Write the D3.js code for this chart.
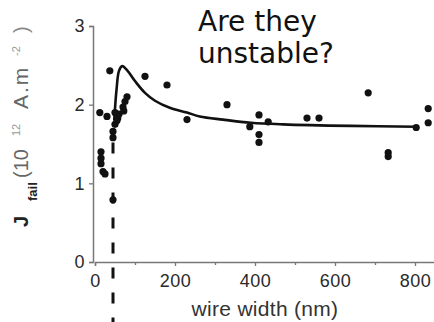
<!DOCTYPE html>
<html><head><meta charset="utf-8">
<script src="https://cdn.jsdelivr.net/npm/d3@7"></script>
<style>html,body{margin:0;padding:0;background:#fff;}svg{display:block;}</style>
</head><body>
<svg id="c" width="434" height="322"></svg>
<script>
// ---- data ----
const xTicks = [0, 200, 400, 600, 800];
const xMinorTicks = [100, 300, 500, 700];
const yTicks = [0, 1, 2, 3];
// measured points: wire width (nm), J_fail (1e12 A/m^2)
const widthNm = [12, 15, 15, 15, 20, 25, 37, 30, 50, 57, 50, 45, 45, 75, 80, 70, 72, 60, 55, 45, 125, 180, 230,
                 330, 410, 433, 387, 410, 410, 530, 560, 683, 733, 733, 803, 833, 833];
const jFail   = [1.90, 1.40, 1.32, 1.25, 1.15, 1.12, 2.43, 1.85, 1.90, 1.83, 1.75, 1.66, 1.58, 2.04, 2.10, 1.97, 1.92, 1.88, 1.80, 0.79, 2.36, 2.25, 1.81,
                 2.00, 1.87, 1.78, 1.72, 1.62, 1.52, 1.83, 1.83, 2.15, 1.39, 1.34, 1.71, 1.95, 1.77];
// fitted curve
const curveNm = [48, 54, 60, 68, 80, 100, 125, 150, 187, 230, 262, 320, 390, 470, 640, 805];
const curveJ  = [1.80, 2.20, 2.43, 2.49, 2.44, 2.30, 2.15, 2.05, 1.96, 1.90, 1.85, 1.81, 1.77, 1.75, 1.73, 1.72];
// vertical dashed marker
const markerNm = 45;
const markerJ = [1.52, -0.77];

const svg = d3.select("#c");
const x = d3.scaleLinear().domain([0, 850]).range([95, 435]);
const y = d3.scaleLinear().domain([0, 3]).range([262, 26]);

const tickFont = "'Liberation Sans', Arial, sans-serif";

// axes
const gx = svg.append("g").attr("transform", `translate(0,${y(0)})`)
  .call(d3.axisBottom(x).tickValues(xTicks).tickSize(4).tickPadding(8).tickFormat(d3.format("d")));
const gxm = svg.append("g").attr("transform", `translate(0,${y(0)})`)
  .call(d3.axisBottom(x).tickValues(xMinorTicks).tickSize(3).tickFormat(""));
gxm.select(".domain").remove();
const gy = svg.append("g").attr("transform", `translate(${x(0) - 2},0)`)
  .call(d3.axisLeft(y).tickValues(yTicks).tickSize(4).tickPadding(4).tickFormat(d3.format("d")));
[gx, gxm, gy].forEach(g => {
  g.selectAll(".domain").attr("stroke", "#777").attr("stroke-width", 1.5);
  g.selectAll(".tick line").attr("stroke", "#777").attr("stroke-width", 1.3);
  g.selectAll(".tick text").attr("fill", "#2a2a2a").style("font-family", tickFont)
    .style("font-size", "18px").style("letter-spacing", "0.5px");
});

// dashed vertical marker
svg.append("line")
  .attr("x1", x(markerNm)).attr("x2", x(markerNm))
  .attr("y1", y(markerJ[0])).attr("y2", y(markerJ[1]))
  .attr("stroke", "#111").attr("stroke-width", 3)
  .attr("stroke-dasharray", "11,14");

// curve
const curveData = curveNm.map((d, i) => [d, curveJ[i]]);
svg.append("path").datum(curveData)
  .attr("d", d3.line().x(d => x(d[0])).y(d => y(d[1])).curve(d3.curveCatmullRom.alpha(0.5)))
  .attr("fill", "none").attr("stroke", "#111").attr("stroke-width", 2.6);

// points
svg.append("g").selectAll("circle").data(widthNm.map((d, i) => [d, jFail[i]]))
  .join("circle")
  .attr("cx", d => x(d[0])).attr("cy", d => y(d[1])).attr("r", 3.6)
  .attr("fill", "#111");

// x label
svg.append("text").attr("x", 265).attr("y", 316).attr("text-anchor", "middle")
  .style("font-family", tickFont).style("font-size", "21px").attr("fill", "#333")
  .style("letter-spacing", "0.3px")
  .text("wire width (nm)");

// y label (rotated; pieces placed along the axis)
const yl = svg.append("text").attr("transform", "rotate(-90)")
  .style("font-family", tickFont).attr("fill", "#666");
yl.append("tspan").attr("x", -227).attr("y", 28).text("J")
  .style("font-size", "20px").style("font-weight", "bold").attr("fill", "#222");
yl.append("tspan").attr("x", -201).attr("y", 37).text("fail")
  .style("font-size", "13px").style("font-weight", "bold").attr("fill", "#222");
yl.append("tspan").attr("x", -178).attr("y", 28).text("(10").style("font-size", "20px");
yl.append("tspan").attr("x", -136).attr("y", 20).text("12").style("font-size", "11px").attr("fill", "#999");
yl.append("tspan").attr("x", -109).attr("y", 28).text("A.m").style("font-size", "21px").style("letter-spacing", "2px");
yl.append("tspan").attr("x", -56).attr("y", 20).text("-2").style("font-size", "11px").attr("fill", "#999");
yl.append("tspan").attr("x", -33).attr("y", 28).text(")").style("font-size", "20px").attr("fill", "#888");

// title
const title = svg.append("text").style("font-family", "'DejaVu Sans', Verdana, sans-serif")
  .style("font-size", "28px").attr("fill", "#111");
title.append("tspan").attr("x", 198).attr("y", 31).text("Are they");
title.append("tspan").attr("x", 198).attr("y", 63).text("unstable?");
</script>
</body></html>
